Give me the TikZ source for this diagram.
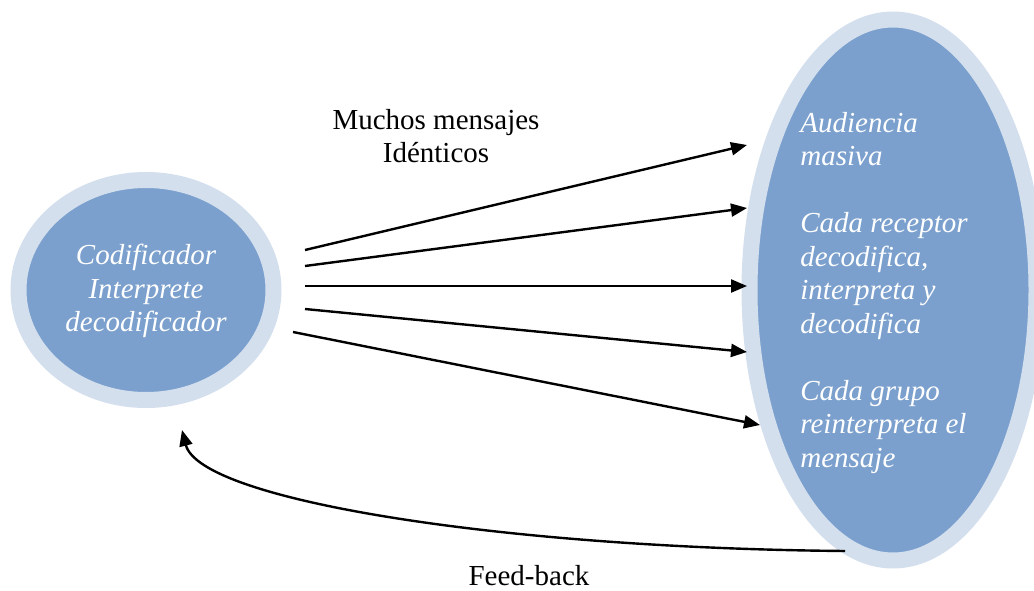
\documentclass[tikz,border=0pt]{standalone}
\usepackage{fontspec}
\setmainfont{Liberation Serif}
\usetikzlibrary{arrows.meta,shapes.geometric,positioning}
\definecolor{ringblue}{RGB}{212,223,238}
\definecolor{fillblue}{RGB}{123,160,205}
\newcommand{\bigfont}{\fontsize{29}{33.5}\selectfont}
\tikzset{
  blob/.style={ellipse, fill=fillblue, draw=ringblue, line width=16pt, inner sep=0pt},
  intext/.style={text=white, font=\bigfont\itshape, inner sep=0pt},
  plain/.style={font=\bigfont, inner sep=0pt, align=center},
  msg/.style={-{Triangle[length=16pt,width=13pt]}, line width=2.4pt}
}

\begin{document}
\begin{tikzpicture}[x=1pt,y=-1pt]
\useasboundingbox (0,0) rectangle (1034,591);
\clip (0,0) rectangle (1034,591);
% the two ellipses
\node[blob, minimum width=255pt, minimum height=220pt] (emisor) at (146,290) {};
\node[blob, minimum width=287pt, minimum height=541pt] (audiencia) at (893,290) {};
\node[intext, align=center] (emisortxt) at (146,291) {Codificador\\Interprete\\decodificador};
\node[intext, align=left] (audtxt) at (884,293) {Audiencia\\masiva\\[33.5pt]Cada receptor\\decodifica,\\interpreta y\\decodifica\\[33.5pt]Cada grupo\\reinterpreta el\\mensaje};
% labels
\node[plain] (mensajes) at (436,136) {Muchos mensajes\\Idénticos};
\node[plain] (feedback) at (529,576) {Feed-back};
% message arrows
\coordinate (s1) at (305,250);
\coordinate (e1) at (747,145);
\coordinate (s2) at (305,266);
\coordinate (e2) at (747,208);
\coordinate (s3) at (305,286);
\coordinate (e3) at (747,286);
\coordinate (s4) at (305,309);
\coordinate (e4) at (747,352);
\coordinate (s5) at (293,332);
\coordinate (e5) at (760,425);
\path[msg]
(s1) edge (e1)
(s2) edge (e2)
(s3) edge (e3)
(s4) edge (e4)
(s5) edge (e5);
% feed-back
\coordinate (fbs) at (845,551);
\coordinate (fbe) at (182,430);
\draw[msg] (fbs) .. controls (500,548) and (200,500) .. (fbe);
\end{tikzpicture}
\end{document}
